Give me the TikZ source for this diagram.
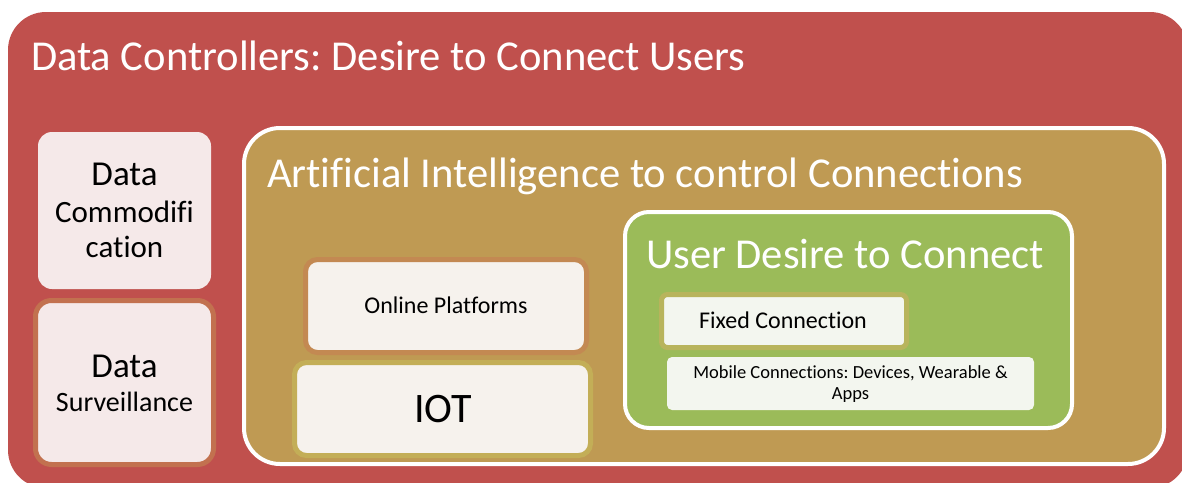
\documentclass[tikz,border=0pt]{standalone}
\usepackage{fontspec}
\setmainfont{Carlito}[Ligatures=NoCommon]
\frenchspacing
\definecolor{cRed}{HTML}{C0504D}
\definecolor{cTan}{HTML}{BF9A53}
\definecolor{cGreen}{HTML}{9BBB59}
\definecolor{cPink}{HTML}{F5E9E9}
\definecolor{cSurvB}{HTML}{C2714F}
\definecolor{cCream}{HTML}{F6F2ED}
\definecolor{cOnlineB}{HTML}{C38952}
\definecolor{cIotB}{HTML}{C3AE57}
\definecolor{cPale}{HTML}{F3F6EF}
\definecolor{cFixedB}{HTML}{B8B45C}
\newcommand{\fsz}[1]{\fontsize{#1}{#1}\selectfont}
\begin{document}
\begin{tikzpicture}[x=1pt,y=-1pt,
  box/.style={rectangle, inner sep=0pt, outer sep=0pt},
  lbl/.style={inner sep=0pt, outer sep=0pt, anchor=base},
  wlbl/.style={inner sep=0pt, outer sep=0pt, anchor=base west, text=white}]
\useasboundingbox (0,0) rectangle (1182,482);
\fill[white] (0,0) rectangle (1182,482);
% boxes
\node[box, fill=cRed, rounded corners=38pt, minimum width=1180pt, minimum height=476pt] (dc) at (598,250) {};
\node[box, fill=cTan, draw=white, line width=4pt, rounded corners=36pt, minimum width=920pt, minimum height=336pt] (ai) at (704,296) {};
\node[box, fill=cGreen, draw=white, line width=4pt, rounded corners=24pt, minimum width=447pt, minimum height=216pt] (ud) at (848.5,320) {};
\node[box, fill=cPink, rounded corners=14pt, minimum width=173pt, minimum height=157pt] (comm) at (124.5,210.5) {};
\node[box, fill=cPink, draw=cSurvB, line width=5pt, rounded corners=16pt, minimum width=178pt, minimum height=164pt] (surv) at (124.5,382.5) {};
\node[box, fill=cCream, draw=cOnlineB, line width=5pt, rounded corners=12pt, minimum width=281pt, minimum height=93pt] (onl) at (446,306) {};
\node[box, fill=cCream, draw=cIotB, line width=5pt, rounded corners=12pt, minimum width=296pt, minimum height=93pt] (iot) at (442.5,409) {};
\node[box, fill=cPale, draw=cFixedB, line width=5pt, rounded corners=6pt, minimum width=245pt, minimum height=53pt] (fix) at (784,321) {};
\node[box, fill=cPale, rounded corners=5pt, minimum width=367pt, minimum height=53pt] (mob) at (850.5,383.5) {};
% texts
\node[wlbl] (tdc) at (31,70) {\fsz{42.6}Data Controllers: Desire to Connect Users};
\node[wlbl] (tai) at (267,187) {\fsz{42.6}Artificial Intelligence to control Connections};
\node[wlbl] (tud) at (646,268) {\fsz{42.6}User Desire to Connect};
\node[lbl] (tc1) at (124.5,185) {\fsz{35}Data};
\node[lbl] (tc2) at (124.5,222) {\fsz{31}Commodifi};
\node[lbl] (tc3) at (124.5,257) {\fsz{31}cation};
\node[lbl] (ts1) at (124.5,377) {\fsz{35}Data};
\node[lbl] (ts2) at (124.5,411) {\fsz{28}Surveillance};
\node[lbl] (to) at (446,313) {\fsz{24}Online Platforms};
\node[lbl] (ti) at (443,422) {\fsz{42}IOT};
\node[lbl] (tf) at (783,328) {\fsz{24}Fixed Connection};
\node[lbl] (tm1) at (850.5,378) {\fsz{18.5}Mobile Connections: Devices, Wearable \&};
\node[lbl] (tm2) at (850.5,399) {\fsz{18.5}Apps};
\end{tikzpicture}
\end{document}
